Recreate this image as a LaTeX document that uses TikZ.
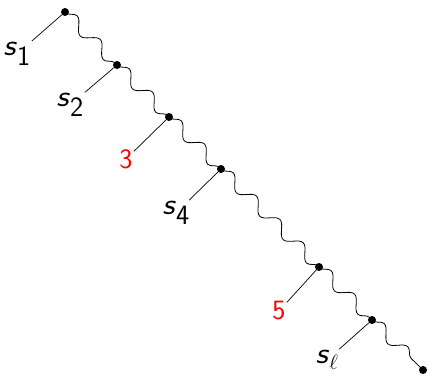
\documentclass[tikz,border=0pt]{standalone}
\usepackage{graphicx}
\usetikzlibrary{decorations.pathmorphing}
\newcommand{\svar}{\scalebox{1.2}[1.08]{\textsl{s}}}
\begin{document}
\begin{tikzpicture}[x=1pt,y=-1pt,
  dot/.style={circle,fill=black,inner sep=0pt,minimum size=8pt},
  lab/.style={inner sep=1pt,font=\fontsize{28}{32}\selectfont\sffamily},
  wig/.style={decorate,decoration={snake,amplitude=6pt,segment length=33pt,pre length=1pt,post length=1pt},line width=0.8pt},
  leg/.style={line width=0.7pt}]
\useasboundingbox (0,0) rectangle (428,378);
\node[dot] (d1) at (65,12) {};
\node[dot] (d2) at (117,65) {};
\node[dot] (d3) at (169,117) {};
\node[dot] (d4) at (221,169) {};
\node[dot] (d5) at (319,267) {};
\node[dot] (d6) at (372,320) {};
\node[dot] (d7) at (423,370) {};
\node[lab] (l1) at (17,54) {\svar$_{\textsf{1}}$};
\node[lab] (l2) at (70,105) {\svar$_{\textsf{2}}$};
\node[lab,text=red] (l3) at (126,159) {3};
\node[lab] (l4) at (176,213) {\svar$_{\textsf{4}}$};
\node[lab,text=red] (l5) at (279,311) {5};
\node[lab] (l6) at (327,360) {\svar$_{\ell}$};
\draw[wig] (d1.center) -- (d2.center);
\draw[wig] (d2.center) -- (d3.center);
\draw[wig] (d3.center) -- (d4.center);
\draw[wig] (d4.center) -- (d5.center);
\draw[wig] (d5.center) -- (d6.center);
\draw[wig] (d6.center) -- (d7.center);
\draw[leg] (d1) -- (l1);
\draw[leg] (d2) -- (l2);
\draw[leg] (d3) -- (l3);
\draw[leg] (d4) -- (l4);
\draw[leg] (d5) -- (l5);
\draw[leg] (d6) -- (l6);
\end{tikzpicture}
\end{document}
